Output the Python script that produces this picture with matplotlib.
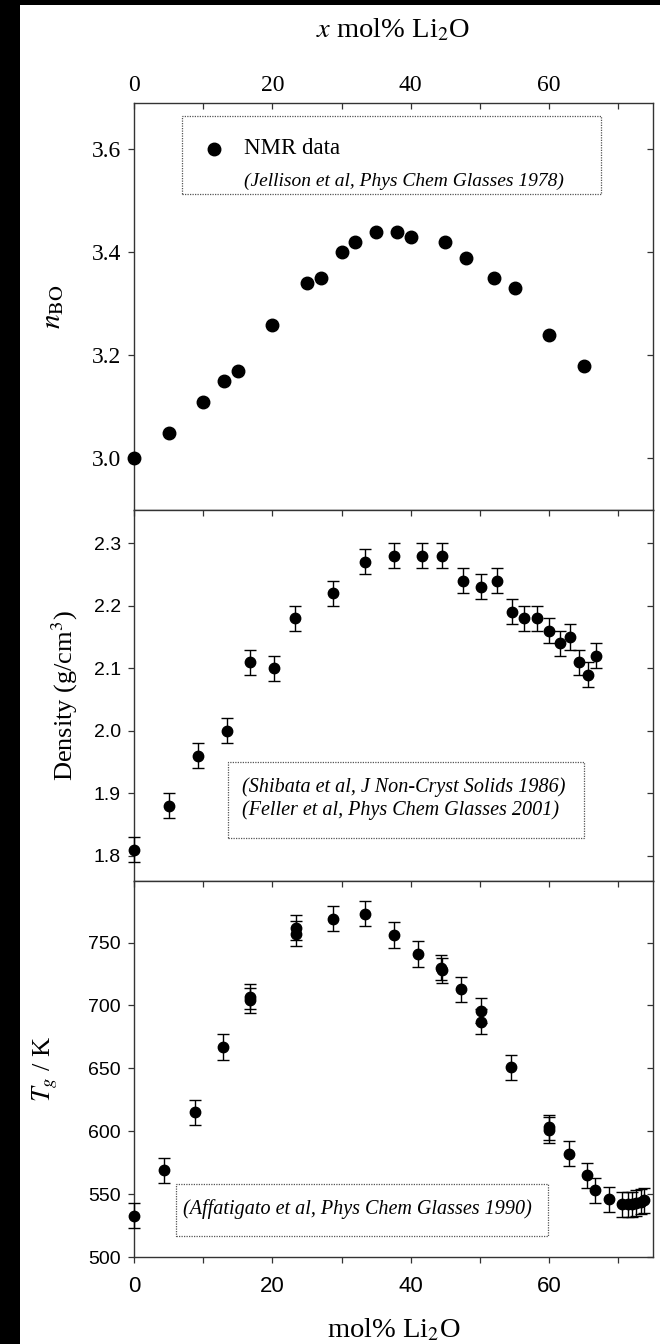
import matplotlib
matplotlib.use("Agg")
from matplotlib import pyplot as plt
from matplotlib.patches import Rectangle

plt.rcParams["mathtext.fontset"] = "stix"
SERIF = "Liberation Serif"
SANS = "Liberation Sans"

# bridging oxygens per boron (NMR)
nmr_x = [0, 5, 10, 13, 15, 20, 25, 27, 30, 32, 35, 38, 40, 45, 48, 52, 55, 60, 65]
nmr_n = [3.00, 3.05, 3.11, 3.15, 3.17, 3.26, 3.34, 3.35, 3.40, 3.42, 3.44, 3.44,
         3.43, 3.42, 3.39, 3.35, 3.33, 3.24, 3.18]

# density, g/cm3
dens_x = [0, 5.1, 9.2, 13.5, 16.75, 20.2, 23.25, 28.7, 33.45, 37.6, 41.6, 44.55,
          47.5, 50.1, 52.5, 54.6, 56.4, 58.3, 60.0, 61.55, 63.0, 64.3, 65.55, 66.7]
dens = [1.81, 1.88, 1.96, 2.00, 2.11, 2.10, 2.18, 2.22, 2.27, 2.28, 2.28, 2.28,
        2.24, 2.23, 2.24, 2.19, 2.18, 2.18, 2.16, 2.14, 2.15, 2.11, 2.09, 2.12]
dens_err = 0.02

# glass transition temperature, K
tg_x = [0, 4.4, 8.8, 12.9, 16.7, 16.8, 23.4, 23.4, 28.7, 33.4, 37.5, 41.1, 44.4,
        44.5, 47.2, 50.1, 50.1, 54.5, 60.0, 60.0, 62.9, 65.5, 66.6, 68.7, 70.5,
        71.4, 72.0, 72.6, 73.2, 73.7]
tg = [533, 569, 615, 667, 707, 704, 762, 757, 769, 773, 756, 741, 730, 728, 713,
      696, 687, 651, 603, 601, 582, 565, 553, 546, 542, 542, 542, 543, 544, 545]
tg_err = 10

x_ticks = [0, 10, 20, 30, 40, 50, 60, 70]
x_labels = ["0", "", "20", "", "40", "", "60", ""]

fig = plt.figure(figsize=(6.6, 13.44), dpi=100)
fig.patches.append(Rectangle((0, 0), 20 / 660, 1, transform=fig.transFigure,
                             facecolor="black", edgecolor="none", zorder=-5))
fig.patches.append(Rectangle((0, 1 - 5 / 1344), 1, 5 / 1344, transform=fig.transFigure,
                             facecolor="black", edgecolor="none", zorder=-5))

left, width = 134 / 660, 519 / 660
ax1 = fig.add_axes([left, 1 - 510 / 1344, width, 407 / 1344])
ax2 = fig.add_axes([left, 1 - 881 / 1344, width, 371 / 1344])
ax3 = fig.add_axes([left, 1 - 1257 / 1344, width, 376 / 1344])

tick_kw = dict(length=4.5, width=0.9, color="#333333")
for ax in (ax1, ax2, ax3):
    ax.set_xlim(0, 75)
    ax.set_xticks(x_ticks)
    for s in ax.spines.values():
        s.set_color("#333333")
        s.set_linewidth(1.0)
    ax.tick_params(axis="y", direction="out", pad=5, **tick_kw)


def right_ticks(ax, ticks):
    right = ax.secondary_yaxis("right")
    right.set_yticks(ticks)
    right.tick_params(direction="in", labelright=False, **tick_kw)
    right.spines["right"].set_visible(False)


def box(ax, x0, y0, w, h):
    ax.add_patch(Rectangle((x0, y0), w, h, transform=ax.transAxes, fill=False,
                           edgecolor="#555555", linewidth=0.9, linestyle=(0, (1, 1))))


# top panel
ax1.plot(nmr_x, nmr_n, "o", color="black", ms=9, clip_on=False, zorder=3)
ax1.set_ylim(2.9, 3.69)
n_ticks = [3.0, 3.2, 3.4, 3.6]
ax1.set_yticks(n_ticks)
ax1.set_yticklabels([f"{t:.1f}" for t in n_ticks], family=SERIF, fontsize=17)
right_ticks(ax1, n_ticks)
ax1.tick_params(axis="x", top=True, bottom=False, labeltop=True, labelbottom=False,
                direction="in", pad=5, **tick_kw)
ax1.set_xticklabels(x_labels, family=SERIF, fontsize=17)
ax1.set_ylabel(r"$n_{\mathrm{BO}}$", family=SERIF, fontsize=21)
ax1.yaxis.set_label_coords(-0.131, 0.5)
box(ax1, 0.092, 0.776, 0.807, 0.191)
ax1.plot([0.155], [0.886], "o", color="black", ms=9, transform=ax1.transAxes)
ax1.text(0.211, 0.888, "NMR data", transform=ax1.transAxes, family=SERIF,
         fontsize=16.5, va="center")
ax1.text(0.211, 0.808, "(Jellison et al, Phys Chem Glasses 1978)", transform=ax1.transAxes,
         family=SERIF, style="italic", fontsize=14, va="center")
ax1.text(0.5, 1.18, r"$x$ mol% Li$_2$O", transform=ax1.transAxes, family=SERIF,
         fontsize=20.5, ha="center", va="center")

# middle panel
ax2.errorbar(dens_x, dens, yerr=dens_err, fmt="o", color="black", ms=7.5, capsize=4.5,
             elinewidth=1.0, capthick=1.0, clip_on=False, zorder=3)
ax2.set_ylim(1.76, 2.353)
d_ticks = [1.8, 1.9, 2.0, 2.1, 2.2, 2.3]
ax2.set_yticks(d_ticks)
ax2.set_yticklabels([f"{t:.1f}" for t in d_ticks], family=SANS, fontsize=14)
right_ticks(ax2, d_ticks)
ax2.tick_params(axis="x", top=True, bottom=False, labeltop=False, labelbottom=False,
                direction="in", **tick_kw)
ax2.set_ylabel(r"Density (g/cm$^3$)", family=SERIF, fontsize=19)
ax2.yaxis.set_label_coords(-0.104, 0.5)
box(ax2, 0.182, 0.117, 0.686, 0.203)
ax2.text(0.208, 0.252, "(Shibata et al, J Non-Cryst Solids 1986)", transform=ax2.transAxes,
         family=SERIF, style="italic", fontsize=14.5, va="center")
ax2.text(0.208, 0.190, "(Feller et al, Phys Chem Glasses 2001)", transform=ax2.transAxes,
         family=SERIF, style="italic", fontsize=14.5, va="center")

# bottom panel
ax3.errorbar(tg_x, tg, yerr=tg_err, fmt="o", color="black", ms=7.5, capsize=4.5,
             elinewidth=1.0, capthick=1.0, clip_on=False, zorder=3)
ax3.set_ylim(500, 799)
t_ticks = [500, 550, 600, 650, 700, 750]
ax3.set_yticks(t_ticks)
ax3.set_yticklabels([str(t) for t in t_ticks], family=SANS, fontsize=14)
right_ticks(ax3, t_ticks)
ax3.tick_params(axis="x", top=False, bottom=True, direction="out", pad=9, **tick_kw)
ax3.set_xticklabels(x_labels, family=SANS, fontsize=16)
top = ax3.secondary_xaxis("top")
top.set_xticks(x_ticks)
top.tick_params(direction="in", labeltop=False, **tick_kw)
top.spines["top"].set_visible(False)
ax3.set_ylabel(r"$T_g$ / K", family=SERIF, fontsize=19)
ax3.yaxis.set_label_coords(-0.143, 0.5)
box(ax3, 0.081, 0.057, 0.716, 0.136)
ax3.text(0.43, 0.128, "(Affatigato et al, Phys Chem Glasses 1990)", transform=ax3.transAxes,
         family=SERIF, style="italic", fontsize=14.5, ha="center", va="center")
ax3.text(0.5, -0.195, r"mol% Li$_2$O", transform=ax3.transAxes, family=SERIF,
         fontsize=20.5, ha="center", va="center")

fig.savefig("out.png", dpi=100)
